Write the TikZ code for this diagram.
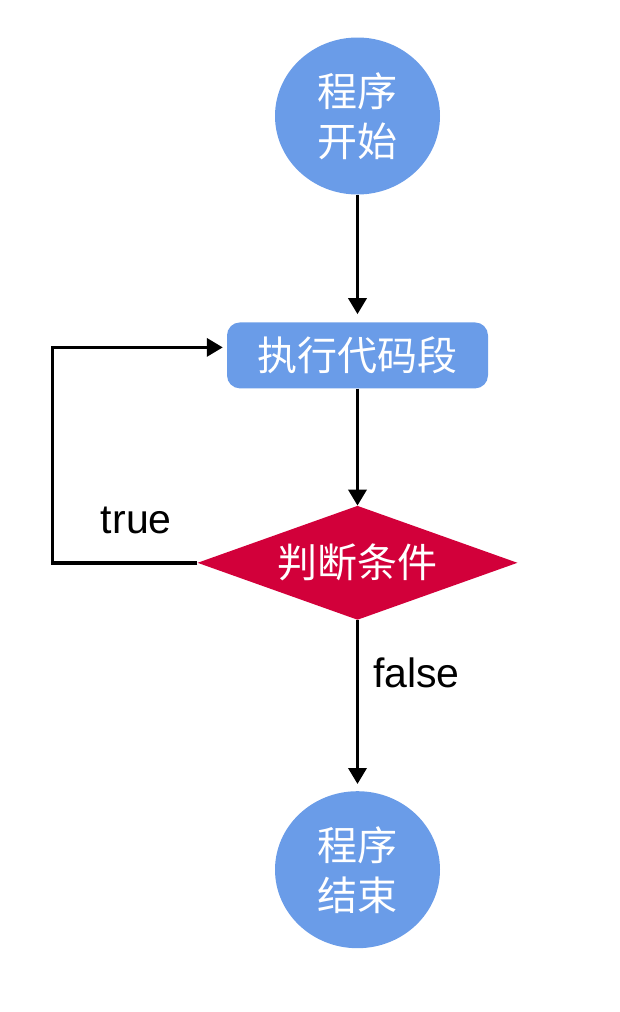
\documentclass[tikz,border=0pt]{standalone}
\usepackage{fontspec}
\usepackage{tikz}
\usetikzlibrary{arrows.meta,positioning,shapes.geometric}
\setmainfont{Liberation Sans}
\newfontfamily\cjk{Noto Sans CJK SC}
\definecolor{flowblue}{RGB}{106,156,232}
\definecolor{flowred}{RGB}{210,0,58}

\begin{document}
\begin{tikzpicture}[
  startstop/.style={ellipse, fill=flowblue, text=white, align=center, inner sep=0pt, minimum width=165pt, minimum height=157pt, font=\cjk\fontsize{40}{50}\selectfont},
  process/.style={rectangle, fill=flowblue, text=white, rounded corners=13pt, inner sep=0pt, minimum width=261pt, minimum height=66pt, font=\cjk\fontsize{40}{50}\selectfont},
  decision/.style={diamond, aspect=2.8, fill=flowred, text=white, inner sep=0pt, minimum width=320pt, minimum height=114pt, font=\cjk\fontsize{40}{50}\selectfont},
  flowarrow/.style={line width=3.5pt, -{Triangle[length=16pt,width=18pt]}},
  lbl/.style={inner sep=0pt, font=\fontsize{41}{48}\selectfont}
]
\useasboundingbox (0,0) rectangle (620pt,-1012pt);

% Inicio
\node[startstop] (start) at (357.5pt,-116pt) {程序\\开始};

% Cuerpo del bucle
\node[process, below=127.5pt of start] (exec) {执行代码段};
\node[decision, below=117pt of exec] (cond) {判断条件};

% Fin
\node[startstop, below=171pt of cond] (stop) {程序\\结束};

% Etiquetas
\node[lbl] (truelbl) at ([xshift=-61pt,yshift=42pt]cond.west) {true};
\node[lbl] (falselbl) at ([xshift=59pt,yshift=-53pt]cond.south) {false};

% Conexiones
\draw[flowarrow, shorten >=8pt] (start) -- (exec);
\draw[flowarrow] (exec) -- (cond);
\draw[flowarrow, shorten >=7pt] (cond) -- (stop);
\draw[flowarrow, shorten >=4pt, line join=miter] (cond.west) -- ++(-145pt,0) |- ([yshift=8pt]exec.west);

\end{tikzpicture}
\end{document}
